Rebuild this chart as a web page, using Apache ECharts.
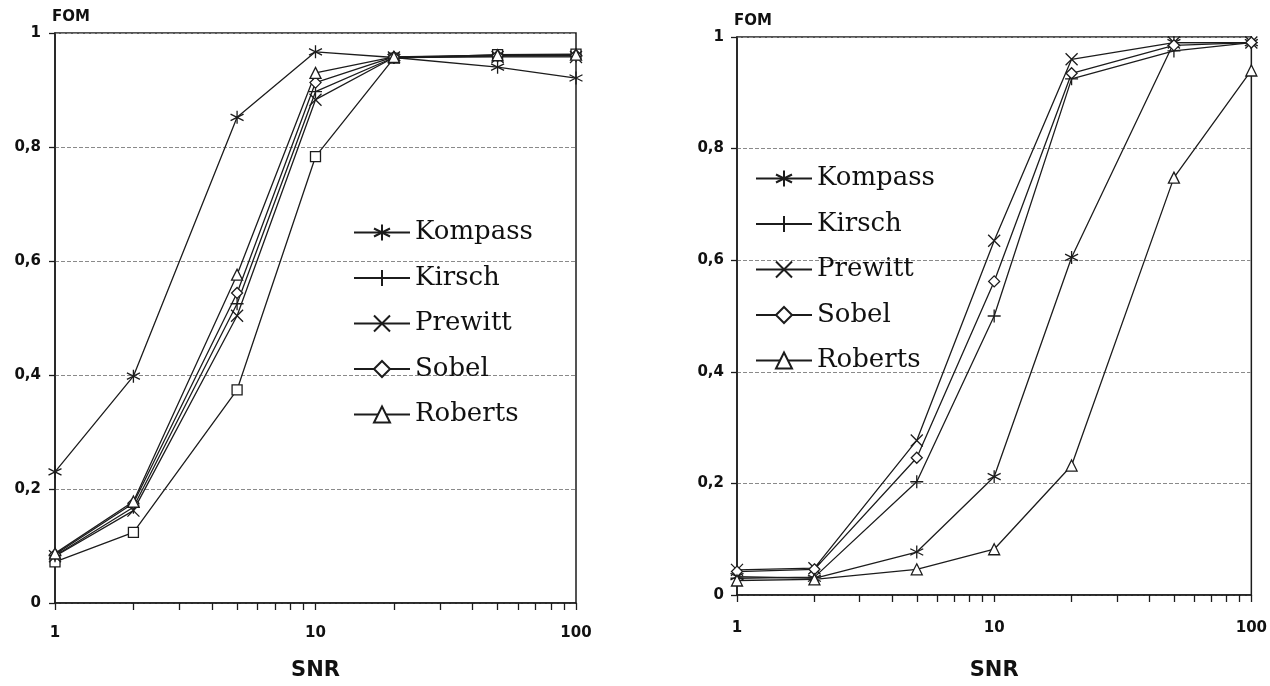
<!DOCTYPE html>
<html>
<head>
<meta charset="utf-8">
<script src="https://cdn.jsdelivr.net/npm/echarts@6/dist/echarts.min.js"></script>
<style>
html,body{margin:0;padding:0;background:#fff;}
#c{width:1270px;height:686px;}
</style>
</head>
<body>
<div id="c"></div>
<script>
// ---- data ----
const snr = [1, 2, 5, 10, 20, 50, 100];
const xLabelValues = [1, 10, 100];
const xTickValues = [1,2,3,4,5,6,7,8,9,10,20,30,40,50,60,70,80,90,100];
const legendNames = ['Kompass', 'Kirsch', 'Prewitt', 'Sobel', 'Roberts'];

// left chart
const leftKompass = [0.23, 0.398, 0.852, 0.967, 0.957, 0.94, 0.921];
const leftKirsch  = [0.083, 0.168, 0.525, 0.897, 0.957, 0.96, 0.96];
const leftPrewitt = [0.082, 0.162, 0.504, 0.883, 0.957, 0.958, 0.958];
const leftSobel   = [0.085, 0.175, 0.544, 0.913, 0.958, 0.96, 0.961];
const leftRoberts = [0.087, 0.178, 0.576, 0.93, 0.958, 0.961, 0.962];
const leftSquare  = [0.072, 0.124, 0.374, 0.783, 0.956, 0.962, 0.963];

// right chart
const rightKompass = [0.033, 0.03, 0.077, 0.212, 0.605, 0.99, 0.99];
const rightKirsch  = [0.03, 0.032, 0.203, 0.50, 0.925, 0.975, 0.99];
const rightPrewitt = [0.045, 0.048, 0.277, 0.635, 0.96, 0.99, 0.99];
const rightSobel   = [0.042, 0.046, 0.246, 0.562, 0.935, 0.985, 0.99];
const rightRoberts = [0.026, 0.028, 0.046, 0.082, 0.232, 0.748, 0.94];

// ---- styling ----
const INK = '#1c1c1c';
const SYM = {
  Kompass: 'path://M5,0L5,10M0.7,2.5L9.3,7.5M9.3,2.5L0.7,7.5',
  Kirsch: 'path://M5,0L5,10M0,5L10,5',
  Prewitt: 'path://M0,0L10,10M10,0L0,10',
  Sobel: 'diamond',
  Roberts: 'triangle',
  Quadrat: 'rect'
};
const SIZE = {Kompass: 13, Kirsch: 13, Prewitt: 12, Sobel: 11, Roberts: 11, Quadrat: 10};

function pts(vals){ return snr.map((x, i) => [x, vals[i]]); }
function mk(name, vals, idx){
  return {
    name: name, type: 'line', xAxisIndex: idx, yAxisIndex: idx,
    data: pts(vals), symbol: SYM[name], symbolSize: SIZE[name],
    showAllSymbol: true, animation: false,
    lineStyle: {color: INK, width: 1.3},
    itemStyle: {color: '#fff', borderColor: INK, borderWidth: 1.3}
  };
}
const commaFmt = v => String(+v.toFixed(2)).replace('.', ',');

function xAx(idx){
  return {
    type: 'log', logBase: 10, gridIndex: idx, min: 1, max: 100,
    name: 'SNR', nameLocation: 'middle', nameGap: idx === 0 ? 57 : 65,
    nameTextStyle: {fontFamily: 'DejaVu Sans', fontWeight: 'bold', fontSize: 21, color: '#111'},
    axisLine: {show: true, lineStyle: {color: INK, width: 1.5}},
    axisTick: {show: true, length: 7, inside: false, customValues: xTickValues, lineStyle: {color: INK, width: 1.3}},
    axisLabel: {customValues: xLabelValues, margin: idx === 0 ? 23 : 26, fontFamily: 'DejaVu Sans', fontWeight: 'bold', fontSize: 15, color: '#111'},
    splitLine: {show: false},
    minorTick: {show: false}
  };
}
function yAx(idx){
  return {
    type: 'value', gridIndex: idx, min: 0, max: 1, interval: 0.2,
    name: 'FOM', nameLocation: 'end', nameGap: 8,
    nameTextStyle: {fontFamily: 'DejaVu Sans', fontWeight: 'bold', fontSize: 15, color: '#111', align: 'left', padding: [0, 0, 0, -3]},
    axisLine: {show: true, lineStyle: {color: INK, width: 1.5}},
    axisTick: {show: true, length: 6, inside: false, lineStyle: {color: INK, width: 1.3}},
    axisLabel: {formatter: commaFmt, margin: idx === 0 ? 14 : 13, fontFamily: 'DejaVu Sans', fontWeight: 'bold', fontSize: 15, color: '#111'},
    splitLine: {show: true, lineStyle: {color: '#8a8a8a', width: 1, type: [4, 2]}}
  };
}
function legend(left, top){
  return {
    data: legendNames, orient: 'vertical', left: left, top: top,
    itemWidth: 56, itemHeight: 20, itemGap: 14.5,
    textStyle: {fontFamily: 'DejaVu Serif', fontSize: 26, color: '#111', lineHeight: 31},
    selectedMode: false
  };
}

const chart = echarts.init(document.getElementById('c'), null, {renderer: 'canvas'});
chart.setOption({
  backgroundColor: '#fff',
  animation: false,
  grid: [
    {left: 55, right: 694, top: 33, bottom: 78, show: true, borderColor: INK, borderWidth: 1.5, containLabel: false},
    {left: 737, right: 18, top: 37, bottom: 75, show: true, borderColor: INK, borderWidth: 1.5, containLabel: false}
  ],
  xAxis: [xAx(0), xAx(1)],
  yAxis: [yAx(0), yAx(1)],
  legend: [legend(348, 212), legend(750, 158)],
  series: [
    mk('Quadrat', leftSquare, 0),
    mk('Kompass', leftKompass, 0),
    mk('Kirsch', leftKirsch, 0),
    mk('Prewitt', leftPrewitt, 0),
    mk('Sobel', leftSobel, 0),
    mk('Roberts', leftRoberts, 0),
    mk('Kompass', rightKompass, 1),
    mk('Kirsch', rightKirsch, 1),
    mk('Prewitt', rightPrewitt, 1),
    mk('Sobel', rightSobel, 1),
    mk('Roberts', rightRoberts, 1)
  ]
});
</script>
</body>
</html>
